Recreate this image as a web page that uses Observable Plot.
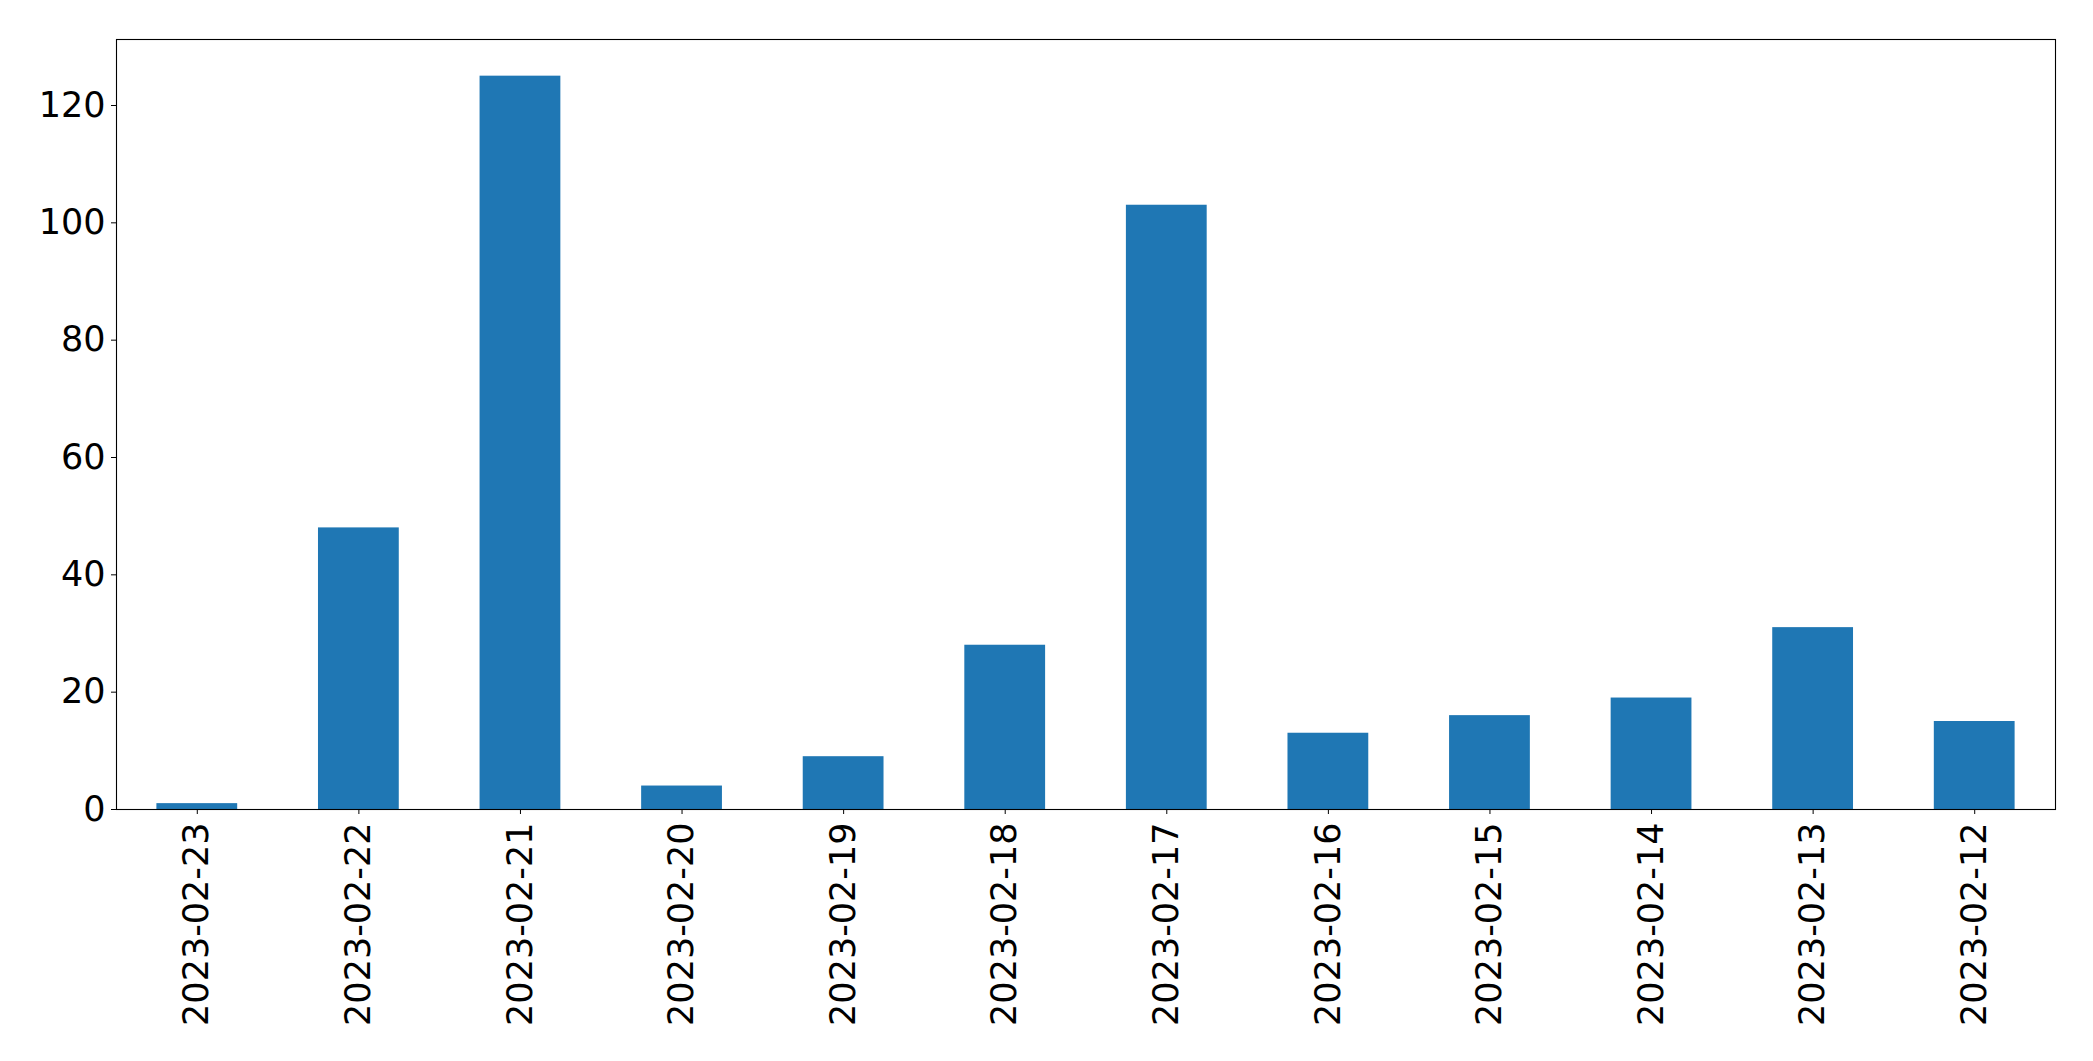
<!DOCTYPE html>
<html>
<head>
<meta charset="utf-8">
<script src="https://cdn.jsdelivr.net/npm/d3@7"></script>
<script src="https://cdn.jsdelivr.net/npm/@observablehq/plot@0.6"></script>
<style>
  html, body { margin: 0; padding: 0; background: #fff; }
</style>
</head>
<body>
<div id="chart"></div>
<script>
const dates = ["2023-02-23","2023-02-22","2023-02-21","2023-02-20","2023-02-19","2023-02-18","2023-02-17","2023-02-16","2023-02-15","2023-02-14","2023-02-13","2023-02-12"];
const counts = [1, 48, 125, 4, 9, 28, 103, 13, 16, 19, 31, 15];
const yTicks = [0, 20, 40, 60, 80, 100, 120];

const data = dates.map((d, i) => ({date: d, count: counts[i]}));

const chart = Plot.plot({
  width: 2093,
  height: 1061,
  marginLeft: 116,
  marginRight: 38,
  marginTop: 39,
  marginBottom: 252,
  style: {fontFamily: "DejaVu Sans", fontSize: "35px", color: "#000", background: "#fff"},
  x: {domain: dates, paddingInner: 0.5, paddingOuter: 0.25, round: false, label: null},
  y: {domain: [0, 131.25], label: null},
  marks: [
    Plot.barY(data, {x: "date", y: "count", fill: "#1f77b4"}),
    Plot.axisY({ticks: yTicks, tickSize: 5, tickPadding: 6, fontSize: 35, label: null, tickFormat: d => String(d)}),
    Plot.axisX({tickSize: 5, tickPadding: 8, tickRotate: -90, fontSize: 35, label: null}),
    Plot.frame({stroke: "#000", strokeWidth: 1.1})
  ]
});
document.getElementById("chart").appendChild(chart);
</script>
</body>
</html>
